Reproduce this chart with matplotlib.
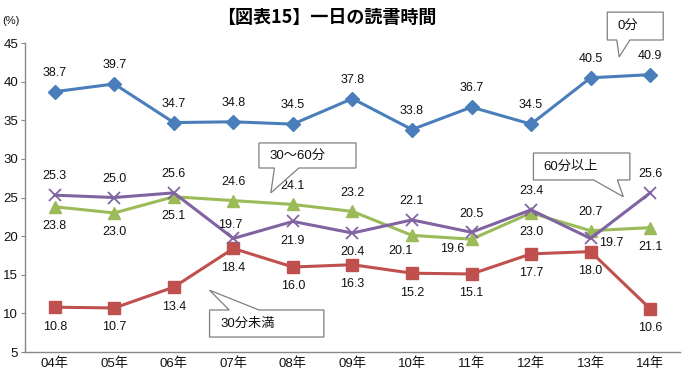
import matplotlib
matplotlib.use("Agg")
import matplotlib.pyplot as plt
from matplotlib.path import Path
from matplotlib.patches import PathPatch

plt.rcParams['font.family'] = ['Liberation Sans', 'Noto Sans CJK JP', 'DejaVu Sans']

years = ["04年", "05年", "06年", "07年", "08年", "09年", "10年", "11年", "12年", "13年", "14年"]
s_zero = [38.7, 39.7, 34.7, 34.8, 34.5, 37.8, 33.8, 36.7, 34.5, 40.5, 40.9]
s_lt30 = [10.8, 10.7, 13.4, 18.4, 16.0, 16.3, 15.2, 15.1, 17.7, 18.0, 10.6]
s_30_60 = [23.8, 23.0, 25.1, 24.6, 24.1, 23.2, 20.1, 19.6, 23.0, 20.7, 21.1]
s_ge60 = [25.3, 25.0, 25.6, 19.7, 21.9, 20.4, 22.1, 20.5, 23.4, 19.7, 25.6]
series_names = ["0分", "30分未満", "30～60分", "60分以上"]
yticks = [5, 10, 15, 20, 25, 30, 35, 40, 45]

# label placement: 'u' above, 'd' below, others special
pos_zero = ['u'] * 11
pos_lt30 = ['d'] * 11
pos_30_60 = ['d', 'd', 'd', 'u', 'u', 'u', 'dl', 'dl2', 'd', 'u', 'd']
pos_ge60 = ['u', 'u', 'u', 'u2', 'd', 'd', 'u', 'u', 'u', 'r', 'u']
offsets = {'u': (0, 13.5), 'd': (0, -14), 'dl': (-8, -11), 'dl2': (-14, -7),
           'u2': (-2, 9.5), 'r': (15, -3.6)}

fig = plt.figure(figsize=(6.84, 3.73), dpi=100)
ax = fig.add_axes([0.0365, 0.0563, 0.9575, 0.8284])

x = list(range(len(years)))
blue, red, green, purple = "#4A7EBB", "#C0504D", "#9BBB59", "#8064A2"

ax.plot(x, s_lt30, color=red, lw=2.2, marker='s', ms=8.5, zorder=3)
ax.plot(x, s_30_60, color=green, lw=2.2, marker='^', ms=9, zorder=3)
ax.plot(x, s_ge60, color=purple, lw=2.2, marker='x', ms=8, mew=1.3, zorder=4)
ax.plot(x, s_zero, color=blue, lw=2.2, marker='D', ms=7, zorder=3)

def labels(vals, pos):
    for i, (v, p) in enumerate(zip(vals, pos)):
        ax.annotate(f"{v:.1f}", (i, v), xytext=offsets[p], textcoords='offset points',
                    ha='center', va='center', fontsize=9, color='#111111', zorder=6)

labels(s_zero, pos_zero)
labels(s_lt30, pos_lt30)
labels(s_30_60, pos_30_60)
labels(s_ge60, pos_ge60)

def callout(text, x0, x1, yb, yt, bx1, bx2, tip, side):
    # box outline with a wedge pointer on bottom ('b') or top ('t') edge
    if side == 'b':
        verts = [(x0, yt), (x1, yt), (x1, yb), (bx2, yb), tip, (bx1, yb), (x0, yb), (x0, yt)]
    else:
        verts = [(x0, yb), (x0, yt), (bx1, yt), tip, (bx2, yt), (x1, yt), (x1, yb), (x0, yb)]
    codes = [Path.MOVETO] + [Path.LINETO] * (len(verts) - 2) + [Path.CLOSEPOLY]
    patch = PathPatch(Path(verts, codes), fc='white', ec='#7F7F7F', lw=0.9,
                      clip_on=False, zorder=7)
    ax.add_patch(patch)
    ax.annotate(text, ((x0), (yb + yt) / 2), xytext=(7.5, 0), textcoords='offset points',
                ha='left', va='center', fontsize=9.5, color='#111111', zorder=8,
                annotation_clip=False)

callout(series_names[0], 9.28, 10.22, 45.39, 49.0, 9.44, 9.66, (9.48, 43.2), 'b')
callout(series_names[2], 3.43, 5.06, 28.82, 32.06, 3.69, 4.10, (3.63, 25.6), 'b')
callout(series_names[3], 8.04, 9.66, 27.27, 30.76, 9.05, 9.45, (9.55, 25.1), 'b')
callout(series_names[1], 2.60, 4.52, 6.94, 10.44, 2.93, 3.43, (2.60, 13.0), 't')

ax.set_xlim(-0.5, 10.5)
ax.set_ylim(5, 45)
ax.set_yticks(yticks)
ax.set_xticks(x)
ax.set_xticklabels(years)
ax.tick_params(axis='x', length=0, pad=4, labelsize=9.5, colors='#111111')
ax.tick_params(axis='y', length=3, pad=2, labelsize=9.5, colors='#111111', color='#888888')
for s in ['top', 'right']:
    ax.spines[s].set_visible(False)
for s in ['left', 'bottom']:
    ax.spines[s].set_color('#888888')
    ax.spines[s].set_linewidth(1.0)

fig.text(0.478, 0.952, "【図表15】一日の読書時間", ha='center', va='center',
         fontsize=13, fontweight='bold', family=['Noto Sans CJK JP', 'DejaVu Sans'])
fig.text(0.004, 0.945, "(%)", ha='left', va='center', fontsize=8, color='#111111')

fig.savefig("out.png", dpi=100)
